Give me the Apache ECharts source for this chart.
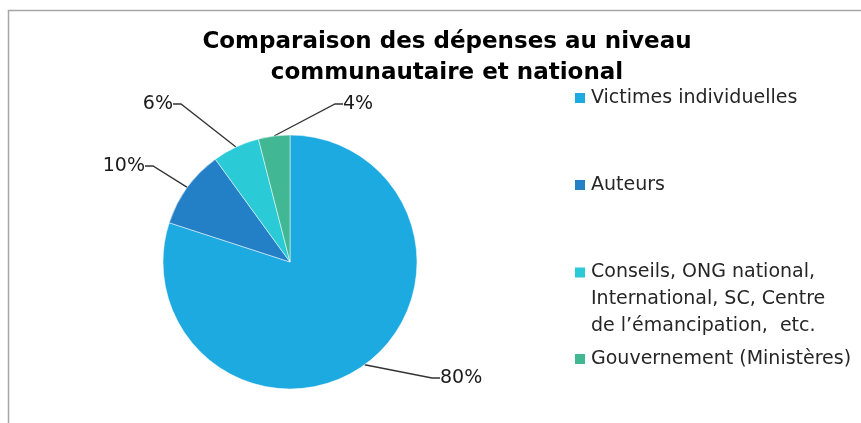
<!DOCTYPE html>
<html><head><meta charset="utf-8">
<script src="https://cdn.jsdelivr.net/npm/echarts@6/dist/echarts.min.js"></script>
<style>html,body{margin:0;padding:0;background:#fff}#c{width:861px;height:423px}</style>
</head><body><div id="c"></div>
<script>
const titleText = 'Comparaison des dépenses au niveau\ncommunautaire et national';
const categories = ['Victimes individuelles', 'Auteurs', 'Conseils, ONG national, International, SC, Centre de l’émancipation,  etc.', 'Gouvernement (Ministères)'];
const legendLabels = ['Victimes individuelles', 'Auteurs', '\n\nConseils, ONG national,\nInternational, SC, Centre\nde l’émancipation,  etc.', 'Gouvernement (Ministères)'];
const values = [80, 10, 6, 4];
const colors = ['#1DAAE1', '#2480C6', '#2ACBD7', '#41B893'];

// label placement (x, y, align) for each slice label
const labelPos = [[440, 378, 'left'], [145, 166, 'right'], [173, 104, 'right'], [343, 104, 'left']];
const legendTops = [88, 175, 205, 349];

const chart = echarts.init(document.getElementById('c'));
const font = 'DejaVu Sans';
const legends = categories.map((name, i) => ({
  data: [name],
  left: 573,
  top: legendTops[i],
  padding: 0,
  itemWidth: 12,
  itemHeight: 12,
  itemGap: 0,
  icon: 'rect',
  selectedMode: false,
  formatter: () => legendLabels[i],
  textStyle: { fontFamily: font, fontSize: 19, color: '#262626', lineHeight: i === 2 ? 27 : 20 }
}));

chart.setOption({
  animation: false,
  backgroundColor: '#fff',
  color: colors,
  title: {
    text: titleText,
    left: 442,
    top: 22,
    textAlign: 'center',
    textStyle: { fontFamily: font, fontWeight: 'bold', fontSize: 23, color: '#000', lineHeight: 31 }
  },
  graphic: [{
    type: 'rect', silent: true, z: -1,
    shape: { x: 8.5, y: 10.5, width: 900, height: 500 },
    style: { fill: 'none', stroke: '#a6a6a6', lineWidth: 1.5 }
  }],
  legend: legends,
  series: [{
    type: 'pie',
    center: [290, 262],
    radius: 127,
    startAngle: 90,
    clockwise: true,
    data: categories.map((n, i) => ({ name: n, value: values[i] })),
    itemStyle: { borderColor: '#fff', borderWidth: 0.5 },
    label: {
      show: true,
      position: 'outside',
      formatter: (p) => p.value + '%',
      fontFamily: font, fontSize: 19, color: '#1a1a1a'
    },
    labelLine: { show: true, length: 20, length2: 8, lineStyle: { color: '#333', width: 1.3 } },
    labelLayout: (p) => {
      const lp = labelPos[p.dataIndex];
      return { x: lp[0], y: lp[1], align: lp[2], verticalAlign: 'middle' };
    }
  }]
});
</script></body></html>
